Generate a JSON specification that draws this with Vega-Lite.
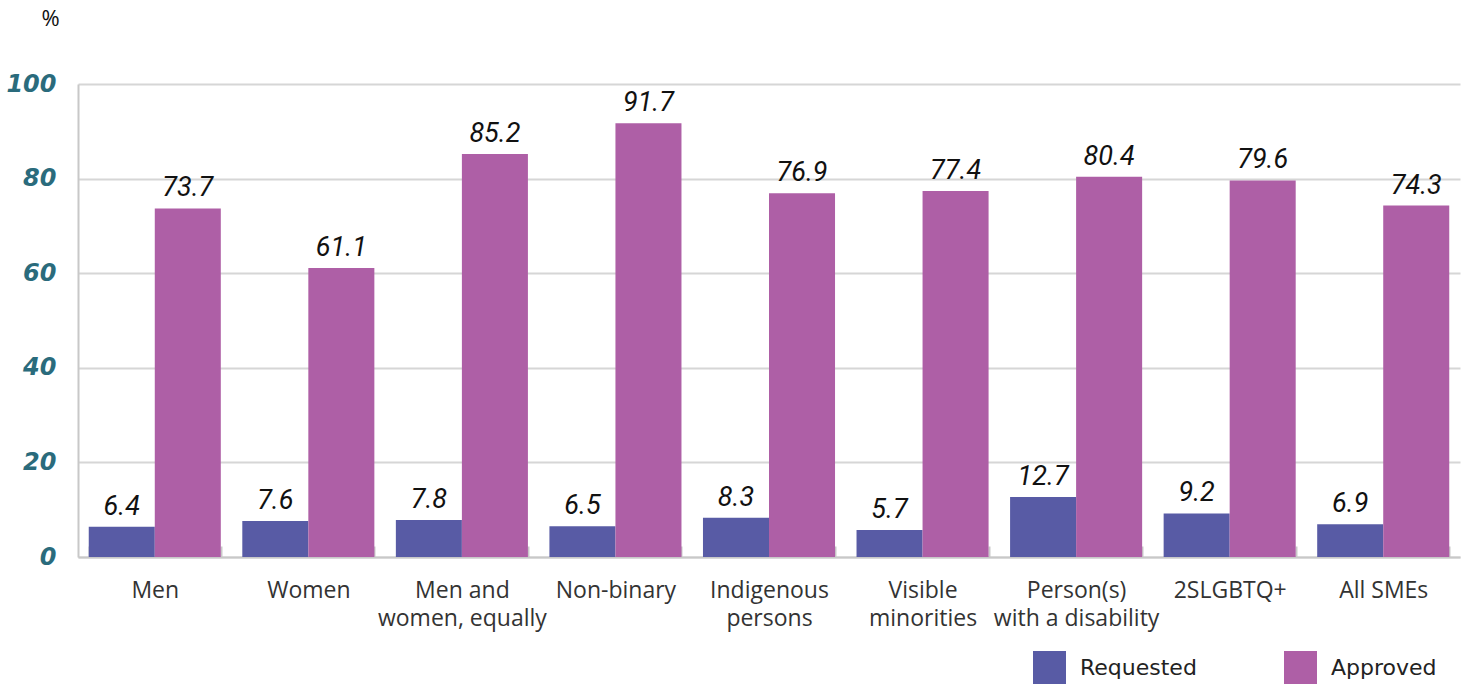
{
  "$schema": "https://vega.github.io/schema/vega-lite/v6.json",
  "autosize": "none",
  "width": 1382,
  "height": 473,
  "padding": {"left": 78, "top": 84, "right": 7, "bottom": 128},
  "background": "white",
  "data": {
    "values": [
      {"group": "Men", "series": "Requested", "value": 6.4},
      {"group": "Men", "series": "Approved", "value": 73.7},
      {"group": "Women", "series": "Requested", "value": 7.6},
      {"group": "Women", "series": "Approved", "value": 61.1},
      {"group": "Men and women, equally", "series": "Requested", "value": 7.8},
      {"group": "Men and women, equally", "series": "Approved", "value": 85.2},
      {"group": "Non-binary", "series": "Requested", "value": 6.5},
      {"group": "Non-binary", "series": "Approved", "value": 91.7},
      {"group": "Indigenous persons", "series": "Requested", "value": 8.3},
      {"group": "Indigenous persons", "series": "Approved", "value": 76.9},
      {"group": "Visible minorities", "series": "Requested", "value": 5.7},
      {"group": "Visible minorities", "series": "Approved", "value": 77.4},
      {"group": "Person(s) with a disability", "series": "Requested", "value": 12.7},
      {"group": "Person(s) with a disability", "series": "Approved", "value": 80.4},
      {"group": "2SLGBTQ+", "series": "Requested", "value": 9.2},
      {"group": "2SLGBTQ+", "series": "Approved", "value": 79.6},
      {"group": "All SMEs", "series": "Requested", "value": 6.9},
      {"group": "All SMEs", "series": "Approved", "value": 74.3}
    ]
  },
  "encoding": {
    "x": {
      "field": "group",
      "type": "nominal",
      "sort": null,
      "scale": {"paddingInner": 0.14, "paddingOuter": 0.07},
      "axis": {
        "title": null,
        "labelAngle": 0,
        "labelFont": "Open Sans",
        "labelFontSize": 23,
        "labelColor": "#333333",
        "labelPadding": 33,
        "labelLineHeight": 28,
        "labelBaseline": "top",
        "labelLimit": 0,
        "labelExpr": "datum.label == 'Men and women, equally' ? ['Men and', 'women, equally'] : datum.label == 'Indigenous persons' ? ['Indigenous', 'persons'] : datum.label == 'Visible minorities' ? ['Visible', 'minorities'] : datum.label == 'Person(s) with a disability' ? ['Person(s)', 'with a disability'] : datum.label",
        "domainColor": "#c8c8c8",
        "domainWidth": 2,
        "ticks": true,
        "tickBand": "extent",
        "tickSize": -11,
        "tickColor": "#c8c8c8",
        "tickWidth": 2
      }
    },
    "xOffset": {"field": "series", "sort": ["Requested", "Approved"]},
    "y": {
      "field": "value",
      "type": "quantitative",
      "scale": {"domain": [0, 100]},
      "axis": {
        "values": [0, 20, 40, 60, 80, 100],
        "title": "%",
        "titleAngle": 0,
        "titleX": -28,
        "titleY": -66,
        "titleAlign": "center",
        "titleBaseline": "middle",
        "titleFont": "Open Sans",
        "titleFontWeight": "normal",
        "titleFontSize": 22,
        "titleColor": "#111111",
        "labelFont": "DejaVu Sans",
        "labelFontStyle": "italic",
        "labelFontWeight": "bold",
        "labelFontSize": 24,
        "labelColor": "#2a6b7c",
        "labelPadding": 22,
        "ticks": false,
        "domainColor": "#c8c8c8",
        "domainWidth": 2,
        "gridColor": "#d6d6d6",
        "gridWidth": 2
      }
    },
    "color": {
      "field": "series",
      "type": "nominal",
      "sort": ["Requested", "Approved"],
      "scale": {"domain": ["Requested", "Approved"], "range": ["#585ba5", "#ae5fa6"]},
      "legend": {
        "title": null,
        "orient": "none",
        "direction": "horizontal",
        "legendX": 955,
        "legendY": 567,
        "symbolType": "square",
        "symbolSize": 1089,
        "symbolStrokeWidth": 0,
        "symbolOpacity": 1,
        "labelFont": "DejaVu Sans",
        "labelFontSize": 22,
        "labelColor": "#222222",
        "labelOffset": 14,
        "columnPadding": 87,
        "labelLimit": 0
      }
    }
  },
  "layer": [
    {"mark": {"type": "bar", "opacity": 1}},
    {
      "mark": {
        "type": "text",
        "baseline": "bottom",
        "dy": -6,
        "font": "Roboto",
        "fontStyle": "italic",
        "fontSize": 27,
        "color": "#111111"
      },
      "encoding": {
        "text": {"field": "value", "type": "quantitative", "format": ".1f"},
        "color": {"value": "#111111"}
      }
    }
  ],
  "config": {"view": {"stroke": null}}
}
